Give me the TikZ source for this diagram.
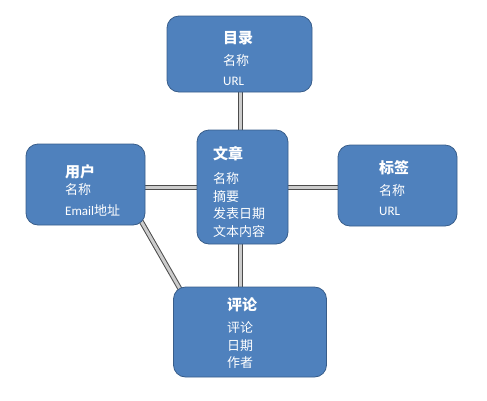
\documentclass[tikz,border=0pt]{standalone}
\usepackage{fontspec}
\setmainfont{Carlito}
\newfontfamily\cjk{Noto Sans CJK SC}
\usetikzlibrary{backgrounds,calc}
\definecolor{boxfill}{HTML}{4F81BD}
\definecolor{boxline}{HTML}{385D8A}
\tikzset{
  ebox/.style={draw=boxline, fill=boxfill, line width=0.8pt, rounded corners=12pt, inner sep=0pt},
  ttl/.style={anchor=west, text=white, font=\cjk\bfseries\fontsize{15}{17}\selectfont, inner sep=0pt},
  txt/.style={anchor=west, text=white, font=\fontsize{13}{15}\selectfont, inner sep=0pt},
  link/.style={draw=black!70, line width=1pt, double=black!20, double distance=3pt},
}
\begin{document}
\begin{tikzpicture}[x=1pt,y=-1pt]
\useasboundingbox (0,0) rectangle (487,400);
% boxes
\node[ebox, minimum width=145pt, minimum height=76pt] (ml) at (239.5,54) {};
\node[ebox, minimum width=91pt, minimum height=114pt] (wz) at (242.5,187) {};
\node[ebox, minimum width=119pt, minimum height=81pt] (yh) at (85.5,184.5) {};
\node[ebox, minimum width=119pt, minimum height=81pt] (bq) at (397.5,185.5) {};
\node[ebox, minimum width=153pt, minimum height=90pt] (pl) at (250,332) {};
% connectors
\begin{scope}[on background layer]
\draw[link] (ml.south -| 240,0) -- (wz.north -| 240,0);
\draw[link] (wz.south -| 240,0) -- (pl.north -| 240,0);
\draw[link] (yh.east |- 0,187) -- (wz.west |- 0,187);
\draw[link] (wz.east |- 0,187) -- (bq.west |- 0,187);
\draw[link] ($(yh.south east)+(-10,-14.25)$) -- ($(pl.north west)+(17,20)$);
\end{scope}
% texts
\node[ttl] (mlt) at (223,38) {目录};
\node[txt] (ml1) at (223,61) {\cjk 名称};
\node[txt] (ml2) at (223,81) {URL};

\node[ttl] (wzt) at (213,154) {文章};
\node[txt] (wz1) at (213,179) {\cjk 名称};
\node[txt] (wz2) at (213,197) {\cjk 摘要};
\node[txt] (wz3) at (213,214) {\cjk 发表日期};
\node[txt] (wz4) at (213,232) {\cjk 文本内容};

\node[ttl] (yht) at (65,172) {用户};
\node[txt] (yh1) at (65,190) {\cjk 名称};
\node[txt] (yh2) at (65,210) {Email{\cjk 地址}};

\node[ttl] (bqt) at (379,168) {标签};
\node[txt] (bq1) at (379,191) {\cjk 名称};
\node[txt] (bq2) at (379,211) {URL};

\node[ttl] (plt) at (227,305) {评论};
\node[txt] (pl1) at (227,328) {\cjk 评论};
\node[txt] (pl2) at (227,346) {\cjk 日期};
\node[txt] (pl3) at (227,363) {\cjk 作者};
\end{tikzpicture}
\end{document}
